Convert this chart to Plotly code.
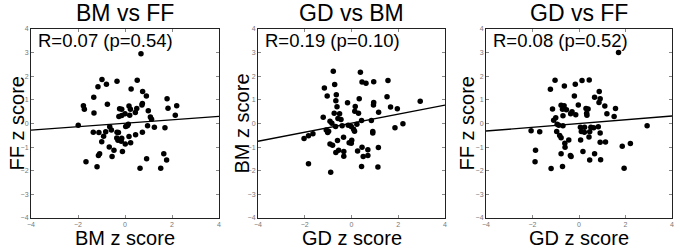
import plotly.graph_objects as go

titles = ["BM vs FF", "GD vs BM", "GD vs FF"]
x_titles = ["BM z score", "GD z score", "GD z score"]
y_titles = ["FF z score", "BM z score", "FF z score"]
stats = ["R=0.07 (p=0.54)", "R=0.19 (p=0.10)", "R=0.08 (p=0.52)"]
fit_slope = [0.073, 0.191, 0.080]
fit_intercept = [0.010, 0.015, 0.000]

bm_ff_x = [0.68, -0.98, -1.15, -0.79, -0.34, 0.52, 0.26, 0.75, 0.91, -1.33, -1.77, -1.73,
           -1.32, -0.75, -0.23, -0.14, 0.17, 0.23, 0.50, 0.44, 0.74, 0.72, 0.99, 1.79, 1.83,
           2.20, 2.14, -0.26, -0.14, 0.00, 0.20, 1.08, 1.13, -1.99, -1.35, -1.11, -0.82,
           -0.65, -0.58, -0.34, -0.28, 0.03, 0.10, 0.14, 0.45, 0.74, 0.96, 1.25, 1.70, -0.91,
           -0.99, -0.35, -0.14, 0.17, -0.30, -0.16, 0.01, 0.24, -0.67, -0.47, -0.11, -0.55,
           -1.08, -1.13, -1.66, -1.19, 0.92, 0.64, 1.52, 1.65, 1.77]
bm_ff_y = [2.95, 1.86, 1.56, 1.66, 1.79, 1.83, 1.46, 1.35, 1.16, 1.11, 0.75, 0.60,
           0.44, 0.82, 0.62, 0.60, 0.74, 0.60, 0.64, 0.47, 0.85, 0.78, 0.54, 1.05, 0.65,
           0.75, 0.35, 0.30, 0.34, 0.41, 0.35, 0.28, 0.18, -0.07, -0.37, -0.38, -0.35,
           -0.14, -0.28, -0.37, -0.38, -0.13, -0.09, -0.03, -0.48, -0.37, -0.10, -0.16, -0.18, -0.54,
           -0.77, -0.61, -0.62, -0.55, -0.71, -0.75, -0.87, -0.82, -0.99, -1.13, -1.18, -1.40,
           -1.28, -1.35, -1.62, -1.83, -1.49, -1.89, -1.89, -1.28, -1.55]

gd_bm_x = [-0.78, 0.38, 0.45, 0.62, 0.95, 1.56, -1.16, -0.72, -1.04, -0.65, -0.67, -0.62,
           -0.17, 0.33, 1.52, 0.95, 0.94, 0.16, 0.14, 0.30, 1.67, 1.96, 2.94, 1.16, -1.21,
           -0.74, -0.51, -0.58, -0.45, -0.92, -0.84, -0.68, -0.40, -0.14, -0.01, 0.09, 0.13,
           0.23, 0.43, 0.85, 2.20, 1.86, -1.08, -1.02, -0.98, -2.03, -1.84, -1.65, -0.34,
           -0.60, -0.10, 0.01, -0.01, -0.92, -0.81, 0.91, 0.91, 0.45, 0.70, 0.26, 1.15,
           -0.55, -0.67, -0.33, -0.33, 0.50, 0.70, -1.84, -0.89, 0.43, 1.13]
gd_bm_y = [2.21, 2.17, 1.76, 1.70, 1.77, 1.82, 1.50, 1.65, 1.16, 1.22, 0.96, 0.71,
           0.88, 1.05, 1.13, 0.89, 0.78, 0.72, 0.52, 0.43, 0.70, 0.62, 0.94, 0.48, 0.26,
           0.43, 0.41, 0.21, 0.17, 0.10, 0.01, -0.13, -0.09, -0.07, -0.13, -0.24, -0.33,
           -0.03, 0.13, 0.13, -0.01, -0.18, -0.28, -0.38, -0.33, -0.64, -0.52, -0.43, -0.58,
           -0.72, -0.82, -0.71, -0.84, -0.87, -0.92, -0.34, -0.40, -1.01, -1.11, -1.16, -1.02,
           -1.13, -1.23, -1.18, -1.39, -1.40, -1.35, -1.70, -2.06, -1.82, -1.84]

gd_ff_x = [1.70, -1.03, -1.23, -0.63, -0.16, 0.13, 0.44, -0.20, 0.87, 0.91, 0.67, 0.86,
           1.11, 1.57, 1.20, 1.51, -1.14, -0.77, -0.64, -0.71, -0.54, -0.69, -0.36, -0.30,
           -0.14, -0.03, 0.30, 0.39, 0.33, 0.34, -1.00, -1.09, -0.94, -0.87, -0.69, 0.06,
           0.24, 0.51, 0.63, 0.83, 2.93, -2.06, -1.69, -0.96, 0.10, 0.23, 0.46, 0.91, -0.83,
           -0.77, 0.43, 0.07, -0.44, -0.61, -0.60, 0.91, 1.14, -1.87, -0.77, -0.37, -0.34,
           0.17, 0.67, 1.86, 2.21, -1.89, 0.46, 0.93, -1.20, -0.71, 1.94]
gd_ff_y = [3.01, 1.83, 1.45, 1.59, 1.66, 1.82, 1.84, 1.16, 1.35, 1.05, 1.11, 0.89,
           0.74, 0.64, 0.41, 0.30, 0.61, 0.77, 0.75, 0.60, 0.58, 0.33, 0.41, 0.50,
           0.37, 0.78, 0.64, 0.61, 0.43, 0.35, 0.24, 0.14, -0.03, -0.07, -0.10, -0.16,
           -0.16, -0.16, -0.18, -0.14, -0.10, -0.31, -0.35, -0.34, -0.34, -0.37, -0.35, -0.40, -0.51,
           -0.60, -0.57, -0.70, -0.70, -0.84, -1.01, -0.79, -0.78, -1.13, -1.28, -1.35, -1.40,
           -1.19, -1.28, -0.96, -0.85, -1.62, -1.55, -1.53, -1.91, -1.82, -1.89]

xs = [bm_ff_x, gd_bm_x, gd_ff_x]
ys = [bm_ff_y, gd_bm_y, gd_ff_y]

W, H = 680, 250
x_px = [(31, 219), (258, 445), (486, 672)]
y_px = (29, 218)
ytitle_px = [16, 241, 466]
FONT = "Arial, Liberation Sans, sans-serif"

fig = go.Figure()
ax_range = [-4, 4]
for i in range(3):
    sfx = "" if i == 0 else str(i + 1)
    xa, ya = "x" + sfx, "y" + sfx
    fig.add_trace(go.Scatter(x=xs[i], y=ys[i], mode="markers", xaxis=xa, yaxis=ya,
                             marker=dict(color="black", size=5.5), showlegend=False,
                             hoverinfo="skip", cliponaxis=False))
    lx = ax_range
    ly = [fit_slope[i] * v + fit_intercept[i] for v in lx]
    fig.add_trace(go.Scatter(x=lx, y=ly, mode="lines", xaxis=xa, yaxis=ya,
                             line=dict(color="black", width=1.4), showlegend=False,
                             hoverinfo="skip"))
    axis_common = dict(range=ax_range, showgrid=False, zeroline=False, showline=True,
                       linecolor="#222", linewidth=1, mirror="ticks", ticks="inside",
                       ticklen=3, tickcolor="#888", tickwidth=1, automargin=False,
                       ticklabelstandoff=0,
                       tickfont=dict(family=FONT, size=7, color="#777"))
    fig.layout["xaxis" + sfx] = dict(domain=[x_px[i][0] / W, x_px[i][1] / W],
                                      anchor=ya, dtick=2, tick0=-4, **axis_common)
    fig.layout["yaxis" + sfx] = dict(domain=[(H - y_px[1]) / H, (H - y_px[0]) / H],
                                      anchor=xa, dtick=1, tick0=-4, **axis_common)
    cx = (x_px[i][0] + x_px[i][1]) / 2 / W
    fig.add_annotation(text=titles[i], x=cx, y=(H - 13) / H, xref="paper", yref="paper",
                       showarrow=False, xanchor="center", yanchor="middle",
                       font=dict(family=FONT, size=23, color="black"))
    fig.add_annotation(text=x_titles[i], x=cx, y=(H - 238) / H, xref="paper", yref="paper",
                       showarrow=False, xanchor="center", yanchor="middle",
                       font=dict(family=FONT, size=20, color="black"))
    fig.add_annotation(text=y_titles[i], x=ytitle_px[i] / W, y=(H - 123.5) / H,
                       xref="paper", yref="paper", textangle=-90,
                       showarrow=False, xanchor="center", yanchor="middle",
                       font=dict(family=FONT, size=20, color="black"))
    fig.add_annotation(text=stats[i], x=-3.8, y=3.5, xref=xa, yref=ya,
                       showarrow=False, xanchor="left", yanchor="middle",
                       font=dict(family=FONT, size=18.5, color="black"))

fig.update_layout(width=W, height=H, margin=dict(l=0, r=0, t=0, b=0),
                  paper_bgcolor="white", plot_bgcolor="white")
fig.write_html("out.html", config={"displayModeBar": False},
               post_script="document.body.style.margin='0px';document.body.style.overflow='hidden';")
